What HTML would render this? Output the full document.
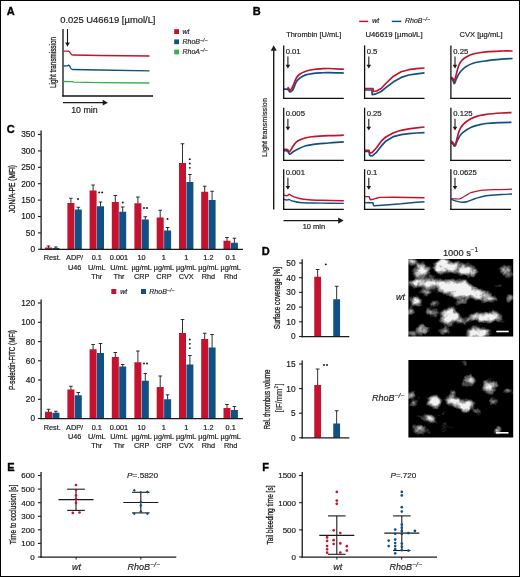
<!DOCTYPE html>
<html><head><meta charset="utf-8"><title>Figure</title>
<style>html,body{margin:0;padding:0;background:#fff}svg{display:block}text{font-family:"Liberation Sans",sans-serif}</style>
</head><body>
<div id="fig" style="width:520px;height:577px;overflow:hidden;will-change:transform">
<svg width="520" height="577" viewBox="0 0 520 577" font-family="Liberation Sans, sans-serif" fill="#1a1a1a">
<rect x="0" y="0" width="520" height="577" fill="#fff"/>
<text x="6.70" y="14.80" font-size="11.00" text-anchor="start" font-weight="bold" stroke="#000" stroke-width="0.35" fill="#000">A</text>
<text x="252.70" y="14.60" font-size="11.00" text-anchor="start" font-weight="bold" stroke="#000" stroke-width="0.35" fill="#000">B</text>
<text x="6.70" y="132.70" font-size="11.00" text-anchor="start" font-weight="bold" stroke="#000" stroke-width="0.35" fill="#000">C</text>
<text x="261.80" y="254.70" font-size="11.00" text-anchor="start" font-weight="bold" stroke="#000" stroke-width="0.35" fill="#000">D</text>
<text x="7.20" y="470.50" font-size="11.00" text-anchor="start" font-weight="bold" stroke="#000" stroke-width="0.35" fill="#000">E</text>
<text x="262.20" y="470.50" font-size="11.00" text-anchor="start" font-weight="bold" stroke="#000" stroke-width="0.35" fill="#000">F</text>
<text x="60.20" y="23.10" font-size="9.00" text-anchor="start" textLength="95.3" lengthAdjust="spacingAndGlyphs" stroke="#1a1a1a" stroke-width="0.18">0.025 U46619 [&#181;mol/L]</text>
<line x1="63.00" y1="29.00" x2="63.00" y2="96.60" stroke="#111" stroke-width="1.30"/>
<line x1="62.35" y1="96.00" x2="153.00" y2="96.00" stroke="#111" stroke-width="1.30"/>
<line x1="67.50" y1="29.00" x2="67.50" y2="43.10" stroke="#1a1a1a" stroke-width="1.10"/>
<path d="M65.15,42.60 L69.85,42.60 L67.50,46.80 Z" fill="#1a1a1a"/>
<path d="M63.50,51.20 L68.60,51.20 L69.60,51.80 L71.50,54.60 L72.60,55.00 L100.00,55.50 L149.50,56.00" fill="none" stroke="#C4122F" stroke-width="1.30" stroke-linejoin="round" stroke-linecap="butt"/>
<path d="M63.50,66.00 L67.60,65.90 L68.60,65.00 L69.40,65.60 L71.20,69.00 L72.40,69.50 L100.00,70.00 L149.50,70.80" fill="none" stroke="#115084" stroke-width="1.30" stroke-linejoin="round" stroke-linecap="butt"/>
<path d="M63.50,81.50 L72.00,81.70 L74.00,82.20 L100.00,82.60 L149.50,83.00" fill="none" stroke="#3DAE49" stroke-width="1.30" stroke-linejoin="round" stroke-linecap="butt"/>
<line x1="63.00" y1="102.65" x2="103.20" y2="102.65" stroke="#1a1a1a" stroke-width="1.20"/>
<path d="M102.70,99.75 L102.70,105.55 L107.90,102.65 Z" fill="#1a1a1a"/>
<text x="71.20" y="112.50" font-size="8.80" text-anchor="start"  stroke="#1a1a1a" stroke-width="0.18">10 min</text>
<text transform="translate(56.00,62.50) rotate(-90) scale(0.7031,1)" font-size="9.00" text-anchor="middle"  stroke="#1a1a1a" stroke-width="0.30">Light transmission</text>
<rect x="174.2" y="29.20" width="4.8" height="4.8" fill="#C4122F"/>
<text x="182.50" y="33.80" font-size="7.00" text-anchor="start" font-style="italic"  stroke="#1a1a1a" stroke-width="0.18">wt</text>
<rect x="174.2" y="39.40" width="4.8" height="4.8" fill="#115084"/>
<text x="182.50" y="44.00" font-size="7.00" text-anchor="start" font-style="italic" stroke="#1a1a1a" stroke-width="0.15">RhoB<tspan font-size="5.32" dy="-2.03">&#8722;/&#8722;</tspan></text>
<rect x="174.2" y="49.60" width="4.8" height="4.8" fill="#3DAE49"/>
<text x="182.50" y="54.20" font-size="7.00" text-anchor="start" font-style="italic" stroke="#1a1a1a" stroke-width="0.15">RhoA<tspan font-size="5.32" dy="-2.03">&#8722;/&#8722;</tspan></text>
<line x1="359.20" y1="21.40" x2="368.20" y2="21.40" stroke="#C4122F" stroke-width="1.50"/>
<text x="372.20" y="23.30" font-size="7.00" text-anchor="start" font-style="italic"  stroke="#1a1a1a" stroke-width="0.18">wt</text>
<line x1="391.80" y1="21.40" x2="401.30" y2="21.40" stroke="#115084" stroke-width="1.50"/>
<text x="405.00" y="23.30" font-size="7.00" text-anchor="start" font-style="italic" stroke="#1a1a1a" stroke-width="0.15">RhoB<tspan font-size="5.32" dy="-2.03">&#8722;/&#8722;</tspan></text>
<text x="286.20" y="37.30" font-size="7.90" text-anchor="start" textLength="55.2" lengthAdjust="spacingAndGlyphs" stroke="#1a1a1a" stroke-width="0.18">Thrombin [U/mL]</text>
<text x="365.40" y="37.30" font-size="7.90" text-anchor="start" textLength="57.2" lengthAdjust="spacingAndGlyphs" stroke="#1a1a1a" stroke-width="0.18">U46619 [&#181;mol/L]</text>
<text x="459.50" y="37.30" font-size="7.90" text-anchor="start" textLength="43" lengthAdjust="spacingAndGlyphs" stroke="#1a1a1a" stroke-width="0.18">CVX [&#181;g/mL]</text>
<line x1="273.70" y1="209.50" x2="273.70" y2="50.20" stroke="#1a1a1a" stroke-width="1.40"/>
<path d="M270.70,50.70 L276.70,50.70 L273.70,45.30 Z" fill="#1a1a1a"/>
<text transform="translate(267.40,127.40) rotate(-90) scale(0.9995,1)" font-size="7.30" text-anchor="middle"  stroke="#1a1a1a" stroke-width="0.18">Light transmission</text>
<line x1="283.50" y1="220.60" x2="338.70" y2="220.60" stroke="#1a1a1a" stroke-width="1.30"/>
<path d="M338.20,217.50 L338.20,223.70 L343.60,220.60 Z" fill="#1a1a1a"/>
<text x="302.70" y="229.20" font-size="7.50" text-anchor="start"  stroke="#1a1a1a" stroke-width="0.18">10 min</text>
<path d="M283.80,89.20 C284.44,89.22 286.42,89.12 287.30,89.30 C288.18,89.48 288.11,89.70 288.60,90.20 C289.10,90.70 289.41,91.85 290.00,92.00 C290.59,92.15 291.16,91.64 291.80,91.00 C292.44,90.36 292.64,90.24 293.50,88.50 C294.36,86.76 295.38,83.39 296.50,81.50 C297.62,79.61 297.90,79.41 299.60,78.20 C301.31,76.99 303.25,75.78 305.80,74.90 C308.35,74.02 310.71,73.79 313.50,73.40 C316.29,73.02 318.19,72.95 321.00,72.80 C323.81,72.65 324.62,72.55 328.80,72.60 C332.98,72.65 341.05,73.01 343.80,73.10" fill="none" stroke="#115084" stroke-width="1.70" stroke-linejoin="round" stroke-linecap="butt"/>
<path d="M287.00,89.00 C287.27,88.82 287.95,87.72 288.50,88.00 C289.05,88.28 289.43,90.39 290.00,90.50 C290.57,90.61 290.96,89.68 291.60,88.60 C292.24,87.52 292.60,86.60 293.50,84.60 C294.40,82.60 295.38,79.61 296.50,77.70 C297.62,75.79 297.90,75.39 299.60,74.20 C301.31,73.01 303.25,72.06 305.80,71.20 C308.35,70.34 310.71,69.94 313.50,69.50 C316.29,69.06 318.19,68.98 321.00,68.80 C323.81,68.62 324.62,68.43 328.80,68.50 C332.98,68.57 341.05,69.07 343.80,69.20" fill="none" stroke="#C4122F" stroke-width="1.70" stroke-linejoin="round" stroke-linecap="butt"/>
<line x1="283.70" y1="45.40" x2="283.70" y2="99.05" stroke="#111" stroke-width="1.30"/>
<line x1="283.05" y1="98.40" x2="343.80" y2="98.40" stroke="#111" stroke-width="1.30"/>
<text x="285.70" y="53.90" font-size="7.70" text-anchor="start"  stroke="#1a1a1a" stroke-width="0.18">0.01</text>
<line x1="287.90" y1="56.60" x2="287.90" y2="65.30" stroke="#1a1a1a" stroke-width="1.10"/>
<path d="M285.60,64.80 L290.20,64.80 L287.90,68.50 Z" fill="#1a1a1a"/>
<path d="M364.70,90.00 L371.90,90.00 L372.20,94.60 L375.00,94.20 L381.20,91.50 L385.80,87.70 L393.50,81.80 L401.20,77.40 L408.80,75.00 L416.50,73.80 L424.50,72.80" fill="none" stroke="#115084" stroke-width="1.70" stroke-linejoin="round" stroke-linecap="butt"/>
<path d="M364.70,88.50 L373.00,88.50 L373.30,91.50 L376.50,91.00 L381.20,88.50 L385.80,83.50 L393.50,76.20 L401.20,71.80 L408.80,69.70 L416.50,68.60 L424.50,68.00" fill="none" stroke="#C4122F" stroke-width="1.70" stroke-linejoin="round" stroke-linecap="butt"/>
<line x1="364.60" y1="45.40" x2="364.60" y2="99.05" stroke="#111" stroke-width="1.30"/>
<line x1="363.95" y1="98.40" x2="424.50" y2="98.40" stroke="#111" stroke-width="1.30"/>
<text x="366.70" y="53.90" font-size="7.70" text-anchor="start"  stroke="#1a1a1a" stroke-width="0.18">0.5</text>
<line x1="368.80" y1="56.60" x2="368.80" y2="65.30" stroke="#1a1a1a" stroke-width="1.10"/>
<path d="M366.50,64.80 L371.10,64.80 L368.80,68.50 Z" fill="#1a1a1a"/>
<path d="M451.30,78.50 C451.57,78.81 452.27,79.28 452.80,80.20 C453.33,81.12 453.76,83.17 454.20,83.50 C454.64,83.83 454.83,82.79 455.20,82.00 C455.57,81.21 455.59,80.56 456.20,79.20 C456.81,77.84 457.53,76.19 458.50,74.60 C459.47,73.00 460.09,71.98 461.50,70.50 C462.91,69.02 463.94,67.88 466.20,66.50 C468.45,65.12 470.13,64.05 473.80,63.00 C477.47,61.95 481.12,61.50 486.20,60.80 C491.28,60.10 496.66,59.62 501.50,59.20 C506.34,58.78 510.56,58.63 512.60,58.50" fill="none" stroke="#115084" stroke-width="1.70" stroke-linejoin="round" stroke-linecap="butt"/>
<path d="M451.30,77.00 C451.57,77.28 452.27,77.73 452.80,78.50 C453.33,79.27 453.76,81.20 454.20,81.20 C454.64,81.20 454.83,79.71 455.20,78.50 C455.57,77.29 455.59,76.85 456.20,74.60 C456.81,72.34 457.53,68.73 458.50,66.20 C459.47,63.67 460.09,62.49 461.50,60.80 C462.91,59.11 463.94,58.28 466.20,57.00 C468.45,55.72 470.13,54.75 473.80,53.80 C477.47,52.85 481.12,52.31 486.20,51.80 C491.28,51.29 496.66,51.15 501.50,51.00 C506.34,50.85 510.56,51.00 512.60,51.00" fill="none" stroke="#C4122F" stroke-width="1.70" stroke-linejoin="round" stroke-linecap="butt"/>
<line x1="450.90" y1="45.40" x2="450.90" y2="99.05" stroke="#111" stroke-width="1.30"/>
<line x1="450.25" y1="98.40" x2="511.00" y2="98.40" stroke="#111" stroke-width="1.30"/>
<text x="453.30" y="53.90" font-size="7.70" text-anchor="start"  stroke="#1a1a1a" stroke-width="0.18">0.25</text>
<line x1="455.00" y1="56.60" x2="455.00" y2="65.30" stroke="#1a1a1a" stroke-width="1.10"/>
<path d="M452.70,64.80 L457.30,64.80 L455.00,68.50 Z" fill="#1a1a1a"/>
<path d="M283.80,150.80 C284.44,150.82 286.42,150.53 287.30,150.90 C288.18,151.27 288.18,152.20 288.60,152.80 C289.02,153.41 289.11,154.09 289.60,154.20 C290.10,154.31 290.59,153.90 291.30,153.40 C292.01,152.91 292.27,152.31 293.50,151.50 C294.73,150.69 295.75,150.04 298.00,149.00 C300.25,147.96 302.96,146.66 305.80,145.80 C308.64,144.94 309.28,144.81 313.50,144.30 C317.72,143.79 323.25,143.46 328.80,143.00 C334.36,142.54 341.05,142.02 343.80,141.80" fill="none" stroke="#115084" stroke-width="1.70" stroke-linejoin="round" stroke-linecap="butt"/>
<path d="M283.80,149.50 C284.44,149.50 286.48,149.30 287.30,149.50 C288.12,149.70 287.93,150.14 288.30,150.60 C288.67,151.06 288.81,152.15 289.30,152.00 C289.80,151.85 290.23,151.01 291.00,149.80 C291.77,148.59 292.22,147.05 293.50,145.40 C294.78,143.75 295.75,142.21 298.00,140.80 C300.25,139.39 302.96,138.47 305.80,137.70 C308.64,136.93 309.28,136.97 313.50,136.60 C317.72,136.23 323.25,135.96 328.80,135.70 C334.36,135.44 341.05,135.29 343.80,135.20" fill="none" stroke="#C4122F" stroke-width="1.70" stroke-linejoin="round" stroke-linecap="butt"/>
<line x1="283.70" y1="107.70" x2="283.70" y2="161.05" stroke="#111" stroke-width="1.30"/>
<line x1="283.05" y1="160.40" x2="343.80" y2="160.40" stroke="#111" stroke-width="1.30"/>
<text x="285.70" y="116.30" font-size="7.70" text-anchor="start"  stroke="#1a1a1a" stroke-width="0.18">0.005</text>
<line x1="287.90" y1="118.80" x2="287.90" y2="127.30" stroke="#1a1a1a" stroke-width="1.10"/>
<path d="M285.60,126.80 L290.20,126.80 L287.90,130.50 Z" fill="#1a1a1a"/>
<path d="M364.70,151.50 L369.00,151.50 L369.60,155.20 L370.60,155.80 L372.50,155.60 L376.50,152.30 L381.20,146.20 L385.80,141.20 L393.50,136.60 L401.20,134.60 L408.80,133.70 L416.50,133.00 L424.50,132.60" fill="none" stroke="#115084" stroke-width="1.70" stroke-linejoin="round" stroke-linecap="butt"/>
<path d="M364.70,150.30 L369.00,150.30 L369.50,152.60 L370.30,153.00 L372.00,152.60 L376.50,147.70 L381.20,141.20 L385.80,137.00 L393.50,132.80 L401.20,130.30 L408.80,128.80 L416.50,127.80 L424.50,127.00" fill="none" stroke="#C4122F" stroke-width="1.70" stroke-linejoin="round" stroke-linecap="butt"/>
<line x1="364.60" y1="107.70" x2="364.60" y2="161.05" stroke="#111" stroke-width="1.30"/>
<line x1="363.95" y1="160.40" x2="424.50" y2="160.40" stroke="#111" stroke-width="1.30"/>
<text x="366.70" y="116.30" font-size="7.70" text-anchor="start"  stroke="#1a1a1a" stroke-width="0.18">0.25</text>
<line x1="368.80" y1="118.80" x2="368.80" y2="127.30" stroke="#1a1a1a" stroke-width="1.10"/>
<path d="M366.50,126.80 L371.10,126.80 L368.80,130.50 Z" fill="#1a1a1a"/>
<path d="M451.30,142.80 C451.61,143.06 452.39,143.58 453.00,144.20 C453.61,144.82 454.09,146.13 454.60,146.20 C455.11,146.27 455.36,145.46 455.80,144.60 C456.24,143.74 456.38,142.89 457.00,141.50 C457.62,140.11 458.10,138.69 459.20,137.00 C460.30,135.31 460.87,134.06 463.00,132.30 C465.13,130.54 467.96,128.74 470.80,127.40 C473.64,126.06 475.68,125.72 478.50,125.00 C481.32,124.28 481.98,123.94 486.20,123.50 C490.42,123.06 496.86,122.82 501.50,122.60 C506.14,122.38 509.67,122.35 511.50,122.30" fill="none" stroke="#115084" stroke-width="1.70" stroke-linejoin="round" stroke-linecap="butt"/>
<path d="M451.30,141.20 C451.61,141.49 452.39,142.03 453.00,142.80 C453.61,143.57 454.09,145.36 454.60,145.40 C455.11,145.44 455.36,144.27 455.80,143.00 C456.24,141.73 456.38,140.74 457.00,138.50 C457.62,136.26 458.10,133.35 459.20,130.80 C460.30,128.25 460.87,126.80 463.00,124.60 C465.13,122.40 467.96,120.41 470.80,118.80 C473.64,117.19 475.68,116.62 478.50,115.80 C481.32,114.97 481.98,114.81 486.20,114.30 C490.42,113.79 496.86,113.31 501.50,113.00 C506.14,112.69 509.67,112.67 511.50,112.60" fill="none" stroke="#C4122F" stroke-width="1.70" stroke-linejoin="round" stroke-linecap="butt"/>
<line x1="450.90" y1="107.70" x2="450.90" y2="161.05" stroke="#111" stroke-width="1.30"/>
<line x1="450.25" y1="160.40" x2="511.00" y2="160.40" stroke="#111" stroke-width="1.30"/>
<text x="453.30" y="116.30" font-size="7.70" text-anchor="start"  stroke="#1a1a1a" stroke-width="0.18">0.125</text>
<line x1="455.00" y1="118.80" x2="455.00" y2="127.30" stroke="#1a1a1a" stroke-width="1.10"/>
<path d="M452.70,126.80 L457.30,126.80 L455.00,130.50 Z" fill="#1a1a1a"/>
<path d="M283.80,199.40 C284.30,199.51 285.73,199.93 286.50,200.00 C287.27,200.07 287.54,199.91 288.00,199.80 C288.46,199.69 288.52,199.31 289.00,199.40 C289.48,199.49 289.78,199.97 290.60,200.30 C291.43,200.63 291.85,200.80 293.50,201.20 C295.15,201.60 296.80,202.17 299.60,202.50 C302.41,202.83 304.84,202.89 308.80,203.00 C312.76,203.11 314.78,203.03 321.20,203.10 C327.62,203.17 339.66,203.34 343.80,203.40" fill="none" stroke="#115084" stroke-width="1.40" stroke-linejoin="round" stroke-linecap="butt"/>
<path d="M283.80,195.00 C284.30,195.15 285.73,195.76 286.50,195.80 C287.27,195.84 287.50,195.47 288.00,195.20 C288.50,194.92 288.65,194.26 289.20,194.30 C289.75,194.34 290.21,194.98 291.00,195.40 C291.79,195.82 291.92,196.03 293.50,196.60 C295.08,197.17 296.80,197.93 299.60,198.50 C302.41,199.07 304.84,199.37 308.80,199.70 C312.76,200.03 314.78,200.10 321.20,200.30 C327.62,200.50 339.66,200.71 343.80,200.80" fill="none" stroke="#C4122F" stroke-width="1.40" stroke-linejoin="round" stroke-linecap="butt"/>
<line x1="283.70" y1="169.20" x2="283.70" y2="210.05" stroke="#111" stroke-width="1.30"/>
<line x1="283.05" y1="209.40" x2="343.80" y2="209.40" stroke="#111" stroke-width="1.30"/>
<text x="285.70" y="175.10" font-size="7.70" text-anchor="start"  stroke="#1a1a1a" stroke-width="0.18">0.001</text>
<line x1="287.90" y1="177.70" x2="287.90" y2="186.50" stroke="#1a1a1a" stroke-width="1.10"/>
<path d="M285.60,186.00 L290.20,186.00 L287.90,189.70 Z" fill="#1a1a1a"/>
<path d="M364.70,202.30 L366.50,202.90 L368.00,202.50 L370.40,202.80 L373.00,202.80 L373.40,205.40 L374.20,205.80 L385.80,205.00 L401.20,203.80 L416.50,202.20 L424.50,201.70" fill="none" stroke="#115084" stroke-width="1.40" stroke-linejoin="round" stroke-linecap="butt"/>
<path d="M364.70,196.60 L369.20,196.60 L369.80,198.80 L370.60,199.70 L373.50,199.20 L376.50,198.20 L379.60,197.40 L393.50,197.20 L424.50,197.80" fill="none" stroke="#C4122F" stroke-width="1.40" stroke-linejoin="round" stroke-linecap="butt"/>
<line x1="364.60" y1="169.20" x2="364.60" y2="210.05" stroke="#111" stroke-width="1.30"/>
<line x1="363.95" y1="209.40" x2="424.50" y2="209.40" stroke="#111" stroke-width="1.30"/>
<text x="366.70" y="175.10" font-size="7.70" text-anchor="start"  stroke="#1a1a1a" stroke-width="0.18">0.1</text>
<line x1="368.80" y1="177.70" x2="368.80" y2="186.50" stroke="#1a1a1a" stroke-width="1.10"/>
<path d="M366.50,186.00 L371.10,186.00 L368.80,189.70 Z" fill="#1a1a1a"/>
<path d="M451.30,199.20 C452.05,199.49 453.53,200.23 455.40,200.80 C457.27,201.37 459.25,202.17 461.50,202.30 C463.75,202.43 465.15,202.20 467.70,201.50 C470.25,200.80 472.01,199.54 475.40,198.50 C478.79,197.46 481.41,196.53 486.20,195.80 C490.99,195.07 496.77,194.83 501.50,194.50 C506.23,194.17 510.07,194.09 512.00,194.00" fill="none" stroke="#115084" stroke-width="1.40" stroke-linejoin="round" stroke-linecap="butt"/>
<path d="M451.30,198.50 C451.98,198.56 453.68,198.71 455.00,198.80 C456.32,198.89 457.40,199.07 458.50,199.00 C459.60,198.93 460.18,198.73 461.00,198.40 C461.82,198.07 461.90,197.86 463.00,197.20 C464.10,196.54 465.57,195.61 467.00,194.80 C468.43,193.99 468.69,193.53 470.80,192.80 C472.91,192.07 474.28,191.37 478.50,190.80 C482.72,190.23 487.66,189.99 493.80,189.70 C499.94,189.41 508.66,189.29 512.00,189.20" fill="none" stroke="#C4122F" stroke-width="1.20" stroke-linejoin="round" stroke-linecap="butt"/>
<line x1="450.90" y1="169.20" x2="450.90" y2="210.05" stroke="#111" stroke-width="1.30"/>
<line x1="450.25" y1="209.40" x2="511.00" y2="209.40" stroke="#111" stroke-width="1.30"/>
<text x="453.30" y="175.10" font-size="7.70" text-anchor="start"  stroke="#1a1a1a" stroke-width="0.18">0.0625</text>
<line x1="455.00" y1="177.70" x2="455.00" y2="186.50" stroke="#1a1a1a" stroke-width="1.10"/>
<path d="M452.70,186.00 L457.30,186.00 L455.00,189.70 Z" fill="#1a1a1a"/>
<line x1="48.50" y1="246.00" x2="48.50" y2="248.00" stroke="#1a1a1a" stroke-width="0.90"/>
<line x1="46.70" y1="246.00" x2="50.30" y2="246.00" stroke="#1a1a1a" stroke-width="0.90"/>
<rect x="45.00" y="247.50" width="7.00" height="1.75" fill="#C4122F"/>
<line x1="55.90" y1="247.00" x2="55.90" y2="248.50" stroke="#1a1a1a" stroke-width="0.90"/>
<line x1="54.10" y1="247.00" x2="57.70" y2="247.00" stroke="#1a1a1a" stroke-width="0.90"/>
<rect x="52.40" y="248.00" width="7.00" height="1.25" fill="#115084"/>
<line x1="70.90" y1="198.25" x2="70.90" y2="203.50" stroke="#1a1a1a" stroke-width="0.90"/>
<line x1="69.10" y1="198.25" x2="72.70" y2="198.25" stroke="#1a1a1a" stroke-width="0.90"/>
<rect x="67.40" y="203.00" width="7.00" height="46.25" fill="#C4122F"/>
<line x1="78.30" y1="207.25" x2="78.30" y2="210.00" stroke="#1a1a1a" stroke-width="0.90"/>
<line x1="76.50" y1="207.25" x2="80.10" y2="207.25" stroke="#1a1a1a" stroke-width="0.90"/>
<rect x="74.80" y="209.50" width="7.00" height="39.75" fill="#115084"/>
<line x1="93.10" y1="185.00" x2="93.10" y2="191.00" stroke="#1a1a1a" stroke-width="0.90"/>
<line x1="91.30" y1="185.00" x2="94.90" y2="185.00" stroke="#1a1a1a" stroke-width="0.90"/>
<rect x="89.60" y="190.50" width="7.00" height="58.75" fill="#C4122F"/>
<line x1="100.50" y1="202.00" x2="100.50" y2="206.75" stroke="#1a1a1a" stroke-width="0.90"/>
<line x1="98.70" y1="202.00" x2="102.30" y2="202.00" stroke="#1a1a1a" stroke-width="0.90"/>
<rect x="97.00" y="206.25" width="7.00" height="43.00" fill="#115084"/>
<line x1="115.30" y1="195.50" x2="115.30" y2="202.50" stroke="#1a1a1a" stroke-width="0.90"/>
<line x1="113.50" y1="195.50" x2="117.10" y2="195.50" stroke="#1a1a1a" stroke-width="0.90"/>
<rect x="111.80" y="202.00" width="7.00" height="47.25" fill="#C4122F"/>
<line x1="122.70" y1="207.00" x2="122.70" y2="212.25" stroke="#1a1a1a" stroke-width="0.90"/>
<line x1="120.90" y1="207.00" x2="124.50" y2="207.00" stroke="#1a1a1a" stroke-width="0.90"/>
<rect x="119.20" y="211.75" width="7.00" height="37.50" fill="#115084"/>
<line x1="137.90" y1="197.00" x2="137.90" y2="203.75" stroke="#1a1a1a" stroke-width="0.90"/>
<line x1="136.10" y1="197.00" x2="139.70" y2="197.00" stroke="#1a1a1a" stroke-width="0.90"/>
<rect x="134.40" y="203.25" width="7.00" height="46.00" fill="#C4122F"/>
<line x1="145.30" y1="216.75" x2="145.30" y2="220.00" stroke="#1a1a1a" stroke-width="0.90"/>
<line x1="143.50" y1="216.75" x2="147.10" y2="216.75" stroke="#1a1a1a" stroke-width="0.90"/>
<rect x="141.80" y="219.50" width="7.00" height="29.75" fill="#115084"/>
<line x1="160.20" y1="210.25" x2="160.20" y2="218.00" stroke="#1a1a1a" stroke-width="0.90"/>
<line x1="158.40" y1="210.25" x2="162.00" y2="210.25" stroke="#1a1a1a" stroke-width="0.90"/>
<rect x="156.70" y="217.50" width="7.00" height="31.75" fill="#C4122F"/>
<line x1="167.60" y1="227.50" x2="167.60" y2="231.00" stroke="#1a1a1a" stroke-width="0.90"/>
<line x1="165.80" y1="227.50" x2="169.40" y2="227.50" stroke="#1a1a1a" stroke-width="0.90"/>
<rect x="164.10" y="230.50" width="7.00" height="18.75" fill="#115084"/>
<line x1="182.50" y1="143.75" x2="182.50" y2="163.50" stroke="#1a1a1a" stroke-width="0.90"/>
<line x1="180.70" y1="143.75" x2="184.30" y2="143.75" stroke="#1a1a1a" stroke-width="0.90"/>
<rect x="179.00" y="163.00" width="7.00" height="86.25" fill="#C4122F"/>
<line x1="189.90" y1="174.50" x2="189.90" y2="182.50" stroke="#1a1a1a" stroke-width="0.90"/>
<line x1="188.10" y1="174.50" x2="191.70" y2="174.50" stroke="#1a1a1a" stroke-width="0.90"/>
<rect x="186.40" y="182.00" width="7.00" height="67.25" fill="#115084"/>
<line x1="204.70" y1="186.25" x2="204.70" y2="192.25" stroke="#1a1a1a" stroke-width="0.90"/>
<line x1="202.90" y1="186.25" x2="206.50" y2="186.25" stroke="#1a1a1a" stroke-width="0.90"/>
<rect x="201.20" y="191.75" width="7.00" height="57.50" fill="#C4122F"/>
<line x1="212.10" y1="191.25" x2="212.10" y2="200.50" stroke="#1a1a1a" stroke-width="0.90"/>
<line x1="210.30" y1="191.25" x2="213.90" y2="191.25" stroke="#1a1a1a" stroke-width="0.90"/>
<rect x="208.60" y="200.00" width="7.00" height="49.25" fill="#115084"/>
<line x1="227.00" y1="237.50" x2="227.00" y2="241.25" stroke="#1a1a1a" stroke-width="0.90"/>
<line x1="225.20" y1="237.50" x2="228.80" y2="237.50" stroke="#1a1a1a" stroke-width="0.90"/>
<rect x="223.50" y="240.75" width="7.00" height="8.50" fill="#C4122F"/>
<line x1="234.40" y1="238.25" x2="234.40" y2="243.25" stroke="#1a1a1a" stroke-width="0.90"/>
<line x1="232.60" y1="238.25" x2="236.20" y2="238.25" stroke="#1a1a1a" stroke-width="0.90"/>
<rect x="230.90" y="242.75" width="7.00" height="6.50" fill="#115084"/>
<line x1="41.10" y1="130.60" x2="41.10" y2="249.90" stroke="#1a1a1a" stroke-width="1.30"/>
<line x1="40.45" y1="249.35" x2="243.00" y2="249.35" stroke="#1a1a1a" stroke-width="1.30"/>
<line x1="37.90" y1="134.50" x2="40.90" y2="134.50" stroke="#1a1a1a" stroke-width="1.10"/>
<text x="35.00" y="137.40" font-size="8.30" text-anchor="end"  stroke="#1a1a1a" stroke-width="0.18">350</text>
<line x1="37.90" y1="150.90" x2="40.90" y2="150.90" stroke="#1a1a1a" stroke-width="1.10"/>
<text x="35.00" y="153.80" font-size="8.30" text-anchor="end"  stroke="#1a1a1a" stroke-width="0.18">300</text>
<line x1="37.90" y1="167.30" x2="40.90" y2="167.30" stroke="#1a1a1a" stroke-width="1.10"/>
<text x="35.00" y="170.20" font-size="8.30" text-anchor="end"  stroke="#1a1a1a" stroke-width="0.18">250</text>
<line x1="37.90" y1="183.70" x2="40.90" y2="183.70" stroke="#1a1a1a" stroke-width="1.10"/>
<text x="35.00" y="186.60" font-size="8.30" text-anchor="end"  stroke="#1a1a1a" stroke-width="0.18">200</text>
<line x1="37.90" y1="200.10" x2="40.90" y2="200.10" stroke="#1a1a1a" stroke-width="1.10"/>
<text x="35.00" y="203.00" font-size="8.30" text-anchor="end"  stroke="#1a1a1a" stroke-width="0.18">150</text>
<line x1="37.90" y1="216.50" x2="40.90" y2="216.50" stroke="#1a1a1a" stroke-width="1.10"/>
<text x="35.00" y="219.40" font-size="8.30" text-anchor="end"  stroke="#1a1a1a" stroke-width="0.18">100</text>
<line x1="37.90" y1="232.90" x2="40.90" y2="232.90" stroke="#1a1a1a" stroke-width="1.10"/>
<text x="35.00" y="235.80" font-size="8.30" text-anchor="end"  stroke="#1a1a1a" stroke-width="0.18">50</text>
<line x1="37.90" y1="249.25" x2="40.90" y2="249.25" stroke="#1a1a1a" stroke-width="1.10"/>
<text x="35.00" y="252.15" font-size="8.30" text-anchor="end"  stroke="#1a1a1a" stroke-width="0.18">0</text>
<text transform="translate(14.70,189.00) rotate(-90) scale(0.7092,1)" font-size="9.30" text-anchor="middle"  stroke="#1a1a1a" stroke-width="0.30">JON/A-PE (MFI)</text>
<line x1="48.50" y1="409.25" x2="48.50" y2="412.25" stroke="#1a1a1a" stroke-width="0.90"/>
<line x1="46.70" y1="409.25" x2="50.30" y2="409.25" stroke="#1a1a1a" stroke-width="0.90"/>
<rect x="45.00" y="411.75" width="7.00" height="6.75" fill="#C4122F"/>
<line x1="55.90" y1="411.25" x2="55.90" y2="413.25" stroke="#1a1a1a" stroke-width="0.90"/>
<line x1="54.10" y1="411.25" x2="57.70" y2="411.25" stroke="#1a1a1a" stroke-width="0.90"/>
<rect x="52.40" y="412.75" width="7.00" height="5.75" fill="#115084"/>
<line x1="70.90" y1="386.25" x2="70.90" y2="390.00" stroke="#1a1a1a" stroke-width="0.90"/>
<line x1="69.10" y1="386.25" x2="72.70" y2="386.25" stroke="#1a1a1a" stroke-width="0.90"/>
<rect x="67.40" y="389.50" width="7.00" height="29.00" fill="#C4122F"/>
<line x1="78.30" y1="392.50" x2="78.30" y2="395.75" stroke="#1a1a1a" stroke-width="0.90"/>
<line x1="76.50" y1="392.50" x2="80.10" y2="392.50" stroke="#1a1a1a" stroke-width="0.90"/>
<rect x="74.80" y="395.25" width="7.00" height="23.25" fill="#115084"/>
<line x1="93.10" y1="344.50" x2="93.10" y2="349.75" stroke="#1a1a1a" stroke-width="0.90"/>
<line x1="91.30" y1="344.50" x2="94.90" y2="344.50" stroke="#1a1a1a" stroke-width="0.90"/>
<rect x="89.60" y="349.25" width="7.00" height="69.25" fill="#C4122F"/>
<line x1="100.50" y1="343.50" x2="100.50" y2="353.50" stroke="#1a1a1a" stroke-width="0.90"/>
<line x1="98.70" y1="343.50" x2="102.30" y2="343.50" stroke="#1a1a1a" stroke-width="0.90"/>
<rect x="97.00" y="353.00" width="7.00" height="65.50" fill="#115084"/>
<line x1="115.30" y1="352.50" x2="115.30" y2="357.50" stroke="#1a1a1a" stroke-width="0.90"/>
<line x1="113.50" y1="352.50" x2="117.10" y2="352.50" stroke="#1a1a1a" stroke-width="0.90"/>
<rect x="111.80" y="357.00" width="7.00" height="61.50" fill="#C4122F"/>
<line x1="122.70" y1="364.50" x2="122.70" y2="367.00" stroke="#1a1a1a" stroke-width="0.90"/>
<line x1="120.90" y1="364.50" x2="124.50" y2="364.50" stroke="#1a1a1a" stroke-width="0.90"/>
<rect x="119.20" y="366.50" width="7.00" height="52.00" fill="#115084"/>
<line x1="137.90" y1="351.00" x2="137.90" y2="362.75" stroke="#1a1a1a" stroke-width="0.90"/>
<line x1="136.10" y1="351.00" x2="139.70" y2="351.00" stroke="#1a1a1a" stroke-width="0.90"/>
<rect x="134.40" y="362.25" width="7.00" height="56.25" fill="#C4122F"/>
<line x1="145.30" y1="373.50" x2="145.30" y2="381.25" stroke="#1a1a1a" stroke-width="0.90"/>
<line x1="143.50" y1="373.50" x2="147.10" y2="373.50" stroke="#1a1a1a" stroke-width="0.90"/>
<rect x="141.80" y="380.75" width="7.00" height="37.75" fill="#115084"/>
<line x1="160.20" y1="376.00" x2="160.20" y2="387.50" stroke="#1a1a1a" stroke-width="0.90"/>
<line x1="158.40" y1="376.00" x2="162.00" y2="376.00" stroke="#1a1a1a" stroke-width="0.90"/>
<rect x="156.70" y="387.00" width="7.00" height="31.50" fill="#C4122F"/>
<line x1="167.60" y1="394.75" x2="167.60" y2="399.75" stroke="#1a1a1a" stroke-width="0.90"/>
<line x1="165.80" y1="394.75" x2="169.40" y2="394.75" stroke="#1a1a1a" stroke-width="0.90"/>
<rect x="164.10" y="399.25" width="7.00" height="19.25" fill="#115084"/>
<line x1="182.50" y1="319.50" x2="182.50" y2="333.50" stroke="#1a1a1a" stroke-width="0.90"/>
<line x1="180.70" y1="319.50" x2="184.30" y2="319.50" stroke="#1a1a1a" stroke-width="0.90"/>
<rect x="179.00" y="333.00" width="7.00" height="85.50" fill="#C4122F"/>
<line x1="189.90" y1="355.50" x2="189.90" y2="365.00" stroke="#1a1a1a" stroke-width="0.90"/>
<line x1="188.10" y1="355.50" x2="191.70" y2="355.50" stroke="#1a1a1a" stroke-width="0.90"/>
<rect x="186.40" y="364.50" width="7.00" height="54.00" fill="#115084"/>
<line x1="204.70" y1="333.25" x2="204.70" y2="339.50" stroke="#1a1a1a" stroke-width="0.90"/>
<line x1="202.90" y1="333.25" x2="206.50" y2="333.25" stroke="#1a1a1a" stroke-width="0.90"/>
<rect x="201.20" y="339.00" width="7.00" height="79.50" fill="#C4122F"/>
<line x1="212.10" y1="334.50" x2="212.10" y2="348.00" stroke="#1a1a1a" stroke-width="0.90"/>
<line x1="210.30" y1="334.50" x2="213.90" y2="334.50" stroke="#1a1a1a" stroke-width="0.90"/>
<rect x="208.60" y="347.50" width="7.00" height="71.00" fill="#115084"/>
<line x1="227.00" y1="404.50" x2="227.00" y2="408.50" stroke="#1a1a1a" stroke-width="0.90"/>
<line x1="225.20" y1="404.50" x2="228.80" y2="404.50" stroke="#1a1a1a" stroke-width="0.90"/>
<rect x="223.50" y="408.00" width="7.00" height="10.50" fill="#C4122F"/>
<line x1="234.40" y1="406.50" x2="234.40" y2="410.50" stroke="#1a1a1a" stroke-width="0.90"/>
<line x1="232.60" y1="406.50" x2="236.20" y2="406.50" stroke="#1a1a1a" stroke-width="0.90"/>
<rect x="230.90" y="410.00" width="7.00" height="8.50" fill="#115084"/>
<line x1="41.10" y1="299.50" x2="41.10" y2="419.15" stroke="#1a1a1a" stroke-width="1.30"/>
<line x1="40.45" y1="418.60" x2="243.00" y2="418.60" stroke="#1a1a1a" stroke-width="1.30"/>
<line x1="37.90" y1="303.00" x2="40.90" y2="303.00" stroke="#1a1a1a" stroke-width="1.10"/>
<text x="35.00" y="305.90" font-size="8.30" text-anchor="end"  stroke="#1a1a1a" stroke-width="0.18">120</text>
<line x1="37.90" y1="322.30" x2="40.90" y2="322.30" stroke="#1a1a1a" stroke-width="1.10"/>
<text x="35.00" y="325.20" font-size="8.30" text-anchor="end"  stroke="#1a1a1a" stroke-width="0.18">100</text>
<line x1="37.90" y1="341.60" x2="40.90" y2="341.60" stroke="#1a1a1a" stroke-width="1.10"/>
<text x="35.00" y="344.50" font-size="8.30" text-anchor="end"  stroke="#1a1a1a" stroke-width="0.18">80</text>
<line x1="37.90" y1="360.80" x2="40.90" y2="360.80" stroke="#1a1a1a" stroke-width="1.10"/>
<text x="35.00" y="363.70" font-size="8.30" text-anchor="end"  stroke="#1a1a1a" stroke-width="0.18">60</text>
<line x1="37.90" y1="380.00" x2="40.90" y2="380.00" stroke="#1a1a1a" stroke-width="1.10"/>
<text x="35.00" y="382.90" font-size="8.30" text-anchor="end"  stroke="#1a1a1a" stroke-width="0.18">40</text>
<line x1="37.90" y1="399.30" x2="40.90" y2="399.30" stroke="#1a1a1a" stroke-width="1.10"/>
<text x="35.00" y="402.20" font-size="8.30" text-anchor="end"  stroke="#1a1a1a" stroke-width="0.18">20</text>
<line x1="37.90" y1="418.50" x2="40.90" y2="418.50" stroke="#1a1a1a" stroke-width="1.10"/>
<text x="35.00" y="421.40" font-size="8.30" text-anchor="end"  stroke="#1a1a1a" stroke-width="0.18">0</text>
<text transform="translate(14.70,360.00) rotate(-90) scale(0.6713,1)" font-size="9.30" text-anchor="middle"  stroke="#1a1a1a" stroke-width="0.30">P-selectin-FITC (MFI)</text>
<text x="52.20" y="260.30" font-size="7.30" text-anchor="middle"  stroke="#1a1a1a" stroke-width="0.18">Rest.</text>
<text x="74.60" y="260.30" font-size="7.30" text-anchor="middle"  stroke="#1a1a1a" stroke-width="0.18">ADP/</text>
<text x="74.60" y="269.65" font-size="7.30" text-anchor="middle"  stroke="#1a1a1a" stroke-width="0.18">U46</text>
<text x="96.80" y="260.30" font-size="7.30" text-anchor="middle"  stroke="#1a1a1a" stroke-width="0.18">0.1</text>
<text x="96.80" y="269.65" font-size="7.30" text-anchor="middle"  stroke="#1a1a1a" stroke-width="0.18">U/mL</text>
<text x="96.80" y="279.00" font-size="7.30" text-anchor="middle"  stroke="#1a1a1a" stroke-width="0.18">Thr</text>
<text x="119.00" y="260.30" font-size="7.30" text-anchor="middle"  stroke="#1a1a1a" stroke-width="0.18">0.001</text>
<text x="119.00" y="269.65" font-size="7.30" text-anchor="middle"  stroke="#1a1a1a" stroke-width="0.18">U/mL</text>
<text x="119.00" y="279.00" font-size="7.30" text-anchor="middle"  stroke="#1a1a1a" stroke-width="0.18">Thr</text>
<text x="141.60" y="260.30" font-size="7.30" text-anchor="middle"  stroke="#1a1a1a" stroke-width="0.18">10</text>
<text x="141.60" y="269.65" font-size="7.30" text-anchor="middle"  stroke="#1a1a1a" stroke-width="0.18">&#181;g/mL</text>
<text x="141.60" y="279.00" font-size="7.30" text-anchor="middle"  stroke="#1a1a1a" stroke-width="0.18">CRP</text>
<text x="163.90" y="260.30" font-size="7.30" text-anchor="middle"  stroke="#1a1a1a" stroke-width="0.18">1</text>
<text x="163.90" y="269.65" font-size="7.30" text-anchor="middle"  stroke="#1a1a1a" stroke-width="0.18">&#181;g/mL</text>
<text x="163.90" y="279.00" font-size="7.30" text-anchor="middle"  stroke="#1a1a1a" stroke-width="0.18">CRP</text>
<text x="186.20" y="260.30" font-size="7.30" text-anchor="middle"  stroke="#1a1a1a" stroke-width="0.18">1</text>
<text x="186.20" y="269.65" font-size="7.30" text-anchor="middle"  stroke="#1a1a1a" stroke-width="0.18">&#181;g/mL</text>
<text x="186.20" y="279.00" font-size="7.30" text-anchor="middle"  stroke="#1a1a1a" stroke-width="0.18">CVX</text>
<text x="208.40" y="260.30" font-size="7.30" text-anchor="middle"  stroke="#1a1a1a" stroke-width="0.18">1.2</text>
<text x="208.40" y="269.65" font-size="7.30" text-anchor="middle"  stroke="#1a1a1a" stroke-width="0.18">&#181;g/mL</text>
<text x="208.40" y="279.00" font-size="7.30" text-anchor="middle"  stroke="#1a1a1a" stroke-width="0.18">Rhd</text>
<text x="230.70" y="260.30" font-size="7.30" text-anchor="middle"  stroke="#1a1a1a" stroke-width="0.18">0.1</text>
<text x="230.70" y="269.65" font-size="7.30" text-anchor="middle"  stroke="#1a1a1a" stroke-width="0.18">&#181;g/mL</text>
<text x="230.70" y="279.00" font-size="7.30" text-anchor="middle"  stroke="#1a1a1a" stroke-width="0.18">Rhd</text>
<text x="52.20" y="429.50" font-size="7.30" text-anchor="middle"  stroke="#1a1a1a" stroke-width="0.18">Rest.</text>
<text x="74.60" y="429.50" font-size="7.30" text-anchor="middle"  stroke="#1a1a1a" stroke-width="0.18">ADP/</text>
<text x="74.60" y="438.85" font-size="7.30" text-anchor="middle"  stroke="#1a1a1a" stroke-width="0.18">U46</text>
<text x="96.80" y="429.50" font-size="7.30" text-anchor="middle"  stroke="#1a1a1a" stroke-width="0.18">0.1</text>
<text x="96.80" y="438.85" font-size="7.30" text-anchor="middle"  stroke="#1a1a1a" stroke-width="0.18">U/mL</text>
<text x="96.80" y="448.20" font-size="7.30" text-anchor="middle"  stroke="#1a1a1a" stroke-width="0.18">Thr</text>
<text x="119.00" y="429.50" font-size="7.30" text-anchor="middle"  stroke="#1a1a1a" stroke-width="0.18">0.001</text>
<text x="119.00" y="438.85" font-size="7.30" text-anchor="middle"  stroke="#1a1a1a" stroke-width="0.18">U/mL</text>
<text x="119.00" y="448.20" font-size="7.30" text-anchor="middle"  stroke="#1a1a1a" stroke-width="0.18">Thr</text>
<text x="141.60" y="429.50" font-size="7.30" text-anchor="middle"  stroke="#1a1a1a" stroke-width="0.18">10</text>
<text x="141.60" y="438.85" font-size="7.30" text-anchor="middle"  stroke="#1a1a1a" stroke-width="0.18">&#181;g/mL</text>
<text x="141.60" y="448.20" font-size="7.30" text-anchor="middle"  stroke="#1a1a1a" stroke-width="0.18">CRP</text>
<text x="163.90" y="429.50" font-size="7.30" text-anchor="middle"  stroke="#1a1a1a" stroke-width="0.18">1</text>
<text x="163.90" y="438.85" font-size="7.30" text-anchor="middle"  stroke="#1a1a1a" stroke-width="0.18">&#181;g/mL</text>
<text x="163.90" y="448.20" font-size="7.30" text-anchor="middle"  stroke="#1a1a1a" stroke-width="0.18">CRP</text>
<text x="186.20" y="429.50" font-size="7.30" text-anchor="middle"  stroke="#1a1a1a" stroke-width="0.18">1</text>
<text x="186.20" y="438.85" font-size="7.30" text-anchor="middle"  stroke="#1a1a1a" stroke-width="0.18">&#181;g/mL</text>
<text x="186.20" y="448.20" font-size="7.30" text-anchor="middle"  stroke="#1a1a1a" stroke-width="0.18">CVX</text>
<text x="208.40" y="429.50" font-size="7.30" text-anchor="middle"  stroke="#1a1a1a" stroke-width="0.18">1.2</text>
<text x="208.40" y="438.85" font-size="7.30" text-anchor="middle"  stroke="#1a1a1a" stroke-width="0.18">&#181;g/mL</text>
<text x="208.40" y="448.20" font-size="7.30" text-anchor="middle"  stroke="#1a1a1a" stroke-width="0.18">Rhd</text>
<text x="230.70" y="429.50" font-size="7.30" text-anchor="middle"  stroke="#1a1a1a" stroke-width="0.18">0.1</text>
<text x="230.70" y="438.85" font-size="7.30" text-anchor="middle"  stroke="#1a1a1a" stroke-width="0.18">&#181;g/mL</text>
<text x="230.70" y="448.20" font-size="7.30" text-anchor="middle"  stroke="#1a1a1a" stroke-width="0.18">Rhd</text>
<ellipse cx="78.00" cy="199.00" rx="1.0" ry="0.9" fill="#1a1a1a"/>
<ellipse cx="99.20" cy="192.40" rx="1.0" ry="0.9" fill="#1a1a1a"/>
<ellipse cx="102.20" cy="192.40" rx="1.0" ry="0.9" fill="#1a1a1a"/>
<ellipse cx="122.80" cy="202.50" rx="1.0" ry="0.9" fill="#1a1a1a"/>
<ellipse cx="144.00" cy="208.00" rx="1.0" ry="0.9" fill="#1a1a1a"/>
<ellipse cx="147.00" cy="208.00" rx="1.0" ry="0.9" fill="#1a1a1a"/>
<ellipse cx="167.50" cy="219.00" rx="1.0" ry="0.9" fill="#1a1a1a"/>
<ellipse cx="189.80" cy="159.20" rx="1.0" ry="0.9" fill="#1a1a1a"/>
<ellipse cx="189.80" cy="163.50" rx="1.0" ry="0.9" fill="#1a1a1a"/>
<ellipse cx="189.80" cy="167.80" rx="1.0" ry="0.9" fill="#1a1a1a"/>
<ellipse cx="144.00" cy="363.50" rx="1.0" ry="0.9" fill="#1a1a1a"/>
<ellipse cx="147.00" cy="363.50" rx="1.0" ry="0.9" fill="#1a1a1a"/>
<ellipse cx="189.80" cy="339.50" rx="1.0" ry="0.9" fill="#1a1a1a"/>
<ellipse cx="189.80" cy="343.80" rx="1.0" ry="0.9" fill="#1a1a1a"/>
<ellipse cx="189.80" cy="348.10" rx="1.0" ry="0.9" fill="#1a1a1a"/>
<rect x="111.3" y="289" width="5" height="5" fill="#C4122F"/>
<text x="120.20" y="293.90" font-size="7.00" text-anchor="start" font-style="italic"  stroke="#1a1a1a" stroke-width="0.18">wt</text>
<rect x="141" y="289" width="5" height="5" fill="#115084"/>
<text x="149.30" y="293.90" font-size="7.00" text-anchor="start" font-style="italic" stroke="#1a1a1a" stroke-width="0.15">RhoB<tspan font-size="5.32" dy="-2.03">&#8722;/&#8722;</tspan></text>
<line x1="317.65" y1="269.50" x2="317.65" y2="277.25" stroke="#1a1a1a" stroke-width="0.90"/>
<line x1="315.75" y1="269.50" x2="319.55" y2="269.50" stroke="#1a1a1a" stroke-width="0.90"/>
<rect x="314.25" y="276.75" width="6.80" height="59.75" fill="#C4122F"/>
<line x1="336.65" y1="286.25" x2="336.65" y2="299.75" stroke="#1a1a1a" stroke-width="0.90"/>
<line x1="334.75" y1="286.25" x2="338.55" y2="286.25" stroke="#1a1a1a" stroke-width="0.90"/>
<rect x="333.25" y="299.25" width="6.80" height="37.25" fill="#115084"/>
<line x1="302.20" y1="259.20" x2="302.20" y2="337.15" stroke="#1a1a1a" stroke-width="1.30"/>
<line x1="301.55" y1="336.60" x2="349.30" y2="336.60" stroke="#1a1a1a" stroke-width="1.30"/>
<line x1="299.10" y1="263.00" x2="302.10" y2="263.00" stroke="#1a1a1a" stroke-width="1.10"/>
<text x="295.50" y="265.90" font-size="8.30" text-anchor="end"  stroke="#1a1a1a" stroke-width="0.18">50</text>
<line x1="299.10" y1="277.70" x2="302.10" y2="277.70" stroke="#1a1a1a" stroke-width="1.10"/>
<text x="295.50" y="280.60" font-size="8.30" text-anchor="end"  stroke="#1a1a1a" stroke-width="0.18">40</text>
<line x1="299.10" y1="292.40" x2="302.10" y2="292.40" stroke="#1a1a1a" stroke-width="1.10"/>
<text x="295.50" y="295.30" font-size="8.30" text-anchor="end"  stroke="#1a1a1a" stroke-width="0.18">30</text>
<line x1="299.10" y1="307.10" x2="302.10" y2="307.10" stroke="#1a1a1a" stroke-width="1.10"/>
<text x="295.50" y="310.00" font-size="8.30" text-anchor="end"  stroke="#1a1a1a" stroke-width="0.18">20</text>
<line x1="299.10" y1="321.80" x2="302.10" y2="321.80" stroke="#1a1a1a" stroke-width="1.10"/>
<text x="295.50" y="324.70" font-size="8.30" text-anchor="end"  stroke="#1a1a1a" stroke-width="0.18">10</text>
<line x1="299.10" y1="336.50" x2="302.10" y2="336.50" stroke="#1a1a1a" stroke-width="1.10"/>
<text x="295.50" y="339.40" font-size="8.30" text-anchor="end"  stroke="#1a1a1a" stroke-width="0.18">0</text>
<ellipse cx="325.80" cy="264.30" rx="1.0" ry="0.9" fill="#1a1a1a"/>
<text transform="translate(280.30,298.00) rotate(-90) scale(0.7029,1)" font-size="9.30" text-anchor="middle"  stroke="#1a1a1a" stroke-width="0.30">Surface coverage [%]</text>
<line x1="317.65" y1="369.00" x2="317.65" y2="385.50" stroke="#1a1a1a" stroke-width="0.90"/>
<line x1="315.75" y1="369.00" x2="319.55" y2="369.00" stroke="#1a1a1a" stroke-width="0.90"/>
<rect x="314.25" y="385.00" width="6.80" height="52.75" fill="#C4122F"/>
<line x1="336.65" y1="410.75" x2="336.65" y2="424.00" stroke="#1a1a1a" stroke-width="0.90"/>
<line x1="334.75" y1="410.75" x2="338.55" y2="410.75" stroke="#1a1a1a" stroke-width="0.90"/>
<rect x="333.25" y="423.50" width="6.80" height="14.25" fill="#115084"/>
<line x1="302.20" y1="360.50" x2="302.20" y2="438.40" stroke="#1a1a1a" stroke-width="1.30"/>
<line x1="301.55" y1="437.85" x2="349.30" y2="437.85" stroke="#1a1a1a" stroke-width="1.30"/>
<line x1="299.10" y1="364.00" x2="302.10" y2="364.00" stroke="#1a1a1a" stroke-width="1.10"/>
<text x="295.50" y="366.90" font-size="8.30" text-anchor="end"  stroke="#1a1a1a" stroke-width="0.18">15</text>
<line x1="299.10" y1="388.60" x2="302.10" y2="388.60" stroke="#1a1a1a" stroke-width="1.10"/>
<text x="295.50" y="391.50" font-size="8.30" text-anchor="end"  stroke="#1a1a1a" stroke-width="0.18">10</text>
<line x1="299.10" y1="413.20" x2="302.10" y2="413.20" stroke="#1a1a1a" stroke-width="1.10"/>
<text x="295.50" y="416.10" font-size="8.30" text-anchor="end"  stroke="#1a1a1a" stroke-width="0.18">5</text>
<line x1="299.10" y1="437.75" x2="302.10" y2="437.75" stroke="#1a1a1a" stroke-width="1.10"/>
<text x="295.50" y="440.65" font-size="8.30" text-anchor="end"  stroke="#1a1a1a" stroke-width="0.18">0</text>
<ellipse cx="324.00" cy="365.00" rx="1.0" ry="0.9" fill="#1a1a1a"/>
<ellipse cx="327.00" cy="365.00" rx="1.0" ry="0.9" fill="#1a1a1a"/>
<text transform="translate(269.80,399.40) rotate(-90) scale(0.6633,1)" font-size="9.30" text-anchor="middle"  stroke="#1a1a1a" stroke-width="0.30">Rel. thrombus volume</text>
<text transform="translate(281.5,397.8) rotate(-90) scale(0.8,1)" font-size="9.5" text-anchor="middle" stroke="#1a1a1a" stroke-width="0.15">[IF/mm<tspan font-size="5.5" dy="-3.8" dx="0.3">2</tspan><tspan dy="3.8" dx="0.6">]</tspan></text>
<text x="442.9" y="255.6" font-size="9.3" stroke="#1a1a1a" stroke-width="0.18">1000 s<tspan font-size="6.4" dy="-3.3">&#8722;1</tspan></text>
<text x="396.00" y="299.80" font-size="9.00" text-anchor="start" font-style="italic"  stroke="#1a1a1a" stroke-width="0.18">wt</text>
<text x="371.90" y="400.50" font-size="9.00" text-anchor="start" font-style="italic" stroke="#1a1a1a" stroke-width="0.15">RhoB<tspan font-size="6.90" dy="-2.61">&#8722;/&#8722;</tspan></text>
<defs>
<filter id="cl" x="0" y="0" width="1" height="1" color-interpolation-filters="sRGB">
 <feTurbulence type="fractalNoise" baseFrequency="0.1" numOctaves="2" seed="3" result="dn"/>
 <feDisplacementMap in="SourceGraphic" in2="dn" scale="9" xChannelSelector="R" yChannelSelector="G" result="d"/>
 <feGaussianBlur in="d" stdDeviation="1.9" result="b"/>
 <feTurbulence type="fractalNoise" baseFrequency="0.2" numOctaves="3" seed="11" result="n"/>
 <feColorMatrix in="n" type="matrix" values="1 0 0 0 0  1 0 0 0 0  1 0 0 0 0  0 0 0 0 1" result="ng"/>
 <feComposite in="b" in2="ng" operator="arithmetic" k1="0.5" k2="1.2" k3="0.7" k4="-0.58" result="m"/>
 <feComponentTransfer in="m" result="c"><feFuncR type="linear" slope="0.95" intercept="0"/><feFuncG type="linear" slope="0.95" intercept="0"/><feFuncB type="linear" slope="0.95" intercept="0"/><feFuncA type="linear" slope="0" intercept="1"/></feComponentTransfer>
 <feGaussianBlur stdDeviation="0.5"/>
</filter>
<clipPath id="c1"><rect x="408.4" y="259" width="104.8" height="77.6"/></clipPath>
<clipPath id="c2"><rect x="408.4" y="360" width="104.8" height="77.6"/></clipPath>
</defs>
<g clip-path="url(#c1)"><g filter="url(#cl)">
<rect x="402.40" y="253.00" width="116.80" height="89.60" fill="#000"/>
<ellipse cx="411.0" cy="262.0" rx="4.3" ry="3.3" fill="#fff" fill-opacity="1.00" transform="rotate(0.0 411.0 262.0)"/>
<ellipse cx="422.0" cy="270.5" rx="8.5" ry="6.0" fill="#fff" fill-opacity="0.75" transform="rotate(-10.0 422.0 270.5)"/>
<ellipse cx="446.0" cy="266.5" rx="12.0" ry="6.5" fill="#fff" fill-opacity="0.95" transform="rotate(5.0 446.0 266.5)"/>
<ellipse cx="468.0" cy="270.0" rx="10.0" ry="6.0" fill="#fff" fill-opacity="0.85" transform="rotate(10.0 468.0 270.0)"/>
<ellipse cx="506.0" cy="271.0" rx="7.0" ry="5.5" fill="#fff" fill-opacity="0.65" transform="rotate(0.0 506.0 271.0)"/>
<ellipse cx="422.0" cy="284.5" rx="14.3" ry="3.5" fill="#fff" fill-opacity="1.00" transform="rotate(0.0 422.0 284.5)"/>
<ellipse cx="446.0" cy="286.0" rx="14.0" ry="6.0" fill="#fff" fill-opacity="0.95" transform="rotate(5.0 446.0 286.0)"/>
<ellipse cx="462.0" cy="289.0" rx="14.0" ry="8.0" fill="#fff" fill-opacity="1.00" transform="rotate(8.0 462.0 289.0)"/>
<ellipse cx="480.0" cy="294.5" rx="12.0" ry="5.5" fill="#fff" fill-opacity="0.85" transform="rotate(15.0 480.0 294.5)"/>
<ellipse cx="492.0" cy="299.0" rx="5.3" ry="3.3" fill="#fff" fill-opacity="0.90" transform="rotate(15.0 492.0 299.0)"/>
<ellipse cx="415.0" cy="300.0" rx="5.0" ry="4.5" fill="#fff" fill-opacity="1.00" transform="rotate(0.0 415.0 300.0)"/>
<ellipse cx="449.0" cy="316.0" rx="9.5" ry="8.5" fill="#fff" fill-opacity="0.95" transform="rotate(0.0 449.0 316.0)"/>
<ellipse cx="485.0" cy="317.0" rx="19.0" ry="4.5" fill="#fff" fill-opacity="0.97" transform="rotate(-4.0 485.0 317.0)"/>
<ellipse cx="479.0" cy="332.5" rx="13.0" ry="4.5" fill="#fff" fill-opacity="0.92" transform="rotate(0.0 479.0 332.5)"/>
<ellipse cx="462.0" cy="322.0" rx="6.3" ry="3.3" fill="#fff" fill-opacity="0.80" transform="rotate(10.0 462.0 322.0)"/>
<ellipse cx="423.0" cy="330.0" rx="6.8" ry="3.5" fill="#fff" fill-opacity="0.75" transform="rotate(0.0 423.0 330.0)"/>
<ellipse cx="431.0" cy="313.0" rx="4.8" ry="3.3" fill="#fff" fill-opacity="0.72" transform="rotate(0.0 431.0 313.0)"/>
<ellipse cx="411.0" cy="312.0" rx="3.3" ry="4.3" fill="#fff" fill-opacity="0.70" transform="rotate(0.0 411.0 312.0)"/>
<ellipse cx="510.5" cy="297.0" rx="3.5" ry="4.1" fill="#fff" fill-opacity="0.85" transform="rotate(0.0 510.5 297.0)"/>
<ellipse cx="444.0" cy="331.0" rx="4.8" ry="3.1" fill="#fff" fill-opacity="0.75" transform="rotate(0.0 444.0 331.0)"/>
<ellipse cx="412.0" cy="334.0" rx="4.3" ry="2.3" fill="#fff" fill-opacity="0.70" transform="rotate(0.0 412.0 334.0)"/>
<ellipse cx="460.0" cy="303.0" rx="7.3" ry="2.5" fill="#fff" fill-opacity="0.70" transform="rotate(0.0 460.0 303.0)"/>
<ellipse cx="436.0" cy="304.0" rx="5.3" ry="2.3" fill="#fff" fill-opacity="0.60" transform="rotate(0.0 436.0 304.0)"/>
<ellipse cx="500.0" cy="285.0" rx="4.3" ry="2.3" fill="#fff" fill-opacity="0.55" transform="rotate(0.0 500.0 285.0)"/>
<ellipse cx="425.0" cy="292.0" rx="6.3" ry="2.3" fill="#fff" fill-opacity="0.65" transform="rotate(0.0 425.0 292.0)"/>
<ellipse cx="432.0" cy="278.0" rx="5.3" ry="2.3" fill="#fff" fill-opacity="0.65" transform="rotate(0.0 432.0 278.0)"/>
</g></g>
<line x1="496.30" y1="331.50" x2="508.70" y2="331.50" stroke="#fff" stroke-width="1.60"/>
<g clip-path="url(#c2)"><g filter="url(#cl)">
<rect x="402.40" y="354.00" width="116.80" height="89.60" fill="#000"/>
<ellipse cx="468.5" cy="381.0" rx="7.5" ry="3.8" fill="#fff" fill-opacity="0.74" transform="rotate(-8.0 468.5 381.0)"/>
<ellipse cx="490.0" cy="386.5" rx="7.5" ry="6.0" fill="#fff" fill-opacity="0.75" transform="rotate(-10.0 490.0 386.5)"/>
<ellipse cx="434.7" cy="402.7" rx="7.3" ry="6.5" fill="#fff" fill-opacity="1.00" transform="rotate(0.0 434.7 402.7)"/>
<ellipse cx="453.0" cy="401.5" rx="8.0" ry="5.5" fill="#fff" fill-opacity="0.90" transform="rotate(8.0 453.0 401.5)"/>
<ellipse cx="466.0" cy="405.5" rx="8.5" ry="4.8" fill="#fff" fill-opacity="0.97" transform="rotate(12.0 466.0 405.5)"/>
<ellipse cx="493.5" cy="402.5" rx="4.5" ry="2.9" fill="#fff" fill-opacity="0.80" transform="rotate(0.0 493.5 402.5)"/>
<ellipse cx="509.0" cy="392.0" rx="3.8" ry="2.6" fill="#fff" fill-opacity="0.70" transform="rotate(20.0 509.0 392.0)"/>
<ellipse cx="412.0" cy="394.5" rx="3.8" ry="3.1" fill="#fff" fill-opacity="0.72" transform="rotate(0.0 412.0 394.5)"/>
<ellipse cx="411.5" cy="403.5" rx="3.3" ry="3.1" fill="#fff" fill-opacity="0.68" transform="rotate(0.0 411.5 403.5)"/>
<ellipse cx="429.5" cy="418.0" rx="7.8" ry="3.7" fill="#fff" fill-opacity="1.00" transform="rotate(5.0 429.5 418.0)"/>
<ellipse cx="417.0" cy="427.8" rx="4.5" ry="2.9" fill="#fff" fill-opacity="0.80" transform="rotate(0.0 417.0 427.8)"/>
<ellipse cx="425.0" cy="433.5" rx="8.3" ry="2.1" fill="#fff" fill-opacity="0.70" transform="rotate(-3.0 425.0 433.5)"/>
<ellipse cx="497.0" cy="430.0" rx="4.8" ry="3.3" fill="#fff" fill-opacity="0.75" transform="rotate(-10.0 497.0 430.0)"/>
<ellipse cx="465.0" cy="365.5" rx="2.8" ry="1.9" fill="#fff" fill-opacity="0.70" transform="rotate(0.0 465.0 365.5)"/>
<ellipse cx="441.0" cy="413.0" rx="3.3" ry="1.8" fill="#fff" fill-opacity="0.65" transform="rotate(0.0 441.0 413.0)"/>
<ellipse cx="452.0" cy="393.5" rx="3.3" ry="2.8" fill="#fff" fill-opacity="0.75" transform="rotate(0.0 452.0 393.5)"/>
<ellipse cx="421.0" cy="398.0" rx="3.3" ry="1.8" fill="#fff" fill-opacity="0.60" transform="rotate(0.0 421.0 398.0)"/>
<ellipse cx="478.0" cy="412.0" rx="4.3" ry="1.9" fill="#fff" fill-opacity="0.60" transform="rotate(0.0 478.0 412.0)"/>
<ellipse cx="445.0" cy="426.0" rx="4.3" ry="1.8" fill="#fff" fill-opacity="0.55" transform="rotate(0.0 445.0 426.0)"/>
</g></g>
<line x1="495.80" y1="432.80" x2="508.50" y2="432.80" stroke="#fff" stroke-width="1.60"/>
<line x1="41.05" y1="472.00" x2="41.05" y2="557.65" stroke="#1a1a1a" stroke-width="1.30"/>
<line x1="40.40" y1="557.10" x2="176.30" y2="557.10" stroke="#1a1a1a" stroke-width="1.30"/>
<line x1="37.90" y1="475.50" x2="40.90" y2="475.50" stroke="#1a1a1a" stroke-width="1.10"/>
<text x="34.70" y="478.35" font-size="8.00" text-anchor="end"  stroke="#1a1a1a" stroke-width="0.18">600</text>
<line x1="37.90" y1="489.10" x2="40.90" y2="489.10" stroke="#1a1a1a" stroke-width="1.10"/>
<text x="34.70" y="491.95" font-size="8.00" text-anchor="end"  stroke="#1a1a1a" stroke-width="0.18">500</text>
<line x1="37.90" y1="502.70" x2="40.90" y2="502.70" stroke="#1a1a1a" stroke-width="1.10"/>
<text x="34.70" y="505.55" font-size="8.00" text-anchor="end"  stroke="#1a1a1a" stroke-width="0.18">400</text>
<line x1="37.90" y1="516.30" x2="40.90" y2="516.30" stroke="#1a1a1a" stroke-width="1.10"/>
<text x="34.70" y="519.15" font-size="8.00" text-anchor="end"  stroke="#1a1a1a" stroke-width="0.18">300</text>
<line x1="37.90" y1="529.80" x2="40.90" y2="529.80" stroke="#1a1a1a" stroke-width="1.10"/>
<text x="34.70" y="532.65" font-size="8.00" text-anchor="end"  stroke="#1a1a1a" stroke-width="0.18">200</text>
<line x1="37.90" y1="543.40" x2="40.90" y2="543.40" stroke="#1a1a1a" stroke-width="1.10"/>
<text x="34.70" y="546.25" font-size="8.00" text-anchor="end"  stroke="#1a1a1a" stroke-width="0.18">100</text>
<line x1="37.90" y1="557.00" x2="40.90" y2="557.00" stroke="#1a1a1a" stroke-width="1.10"/>
<text x="34.70" y="559.85" font-size="8.00" text-anchor="end"  stroke="#1a1a1a" stroke-width="0.18">0</text>
<line x1="76.10" y1="557.00" x2="76.10" y2="559.60" stroke="#1a1a1a" stroke-width="1.00"/>
<line x1="140.90" y1="557.00" x2="140.90" y2="559.60" stroke="#1a1a1a" stroke-width="1.00"/>
<line x1="76.00" y1="489.20" x2="76.00" y2="510.40" stroke="#1a1a1a" stroke-width="1.10"/>
<line x1="67.20" y1="489.20" x2="84.80" y2="489.20" stroke="#1a1a1a" stroke-width="1.10"/>
<line x1="67.20" y1="510.40" x2="84.80" y2="510.40" stroke="#1a1a1a" stroke-width="1.10"/>
<line x1="58.50" y1="499.60" x2="93.50" y2="499.60" stroke="#1a1a1a" stroke-width="1.10"/>
<circle cx="76.00" cy="485.00" r="1.33" fill="#C4122F"/>
<circle cx="76.00" cy="490.00" r="1.33" fill="#C4122F"/>
<circle cx="76.00" cy="495.40" r="1.33" fill="#C4122F"/>
<circle cx="76.00" cy="499.10" r="1.33" fill="#C4122F"/>
<circle cx="76.00" cy="502.90" r="1.33" fill="#C4122F"/>
<circle cx="72.80" cy="512.90" r="1.33" fill="#C4122F"/>
<circle cx="79.50" cy="512.50" r="1.33" fill="#C4122F"/>
<line x1="140.80" y1="492.30" x2="140.80" y2="512.90" stroke="#1a1a1a" stroke-width="1.10"/>
<line x1="132.00" y1="492.30" x2="149.60" y2="492.30" stroke="#1a1a1a" stroke-width="1.10"/>
<line x1="132.00" y1="512.90" x2="149.60" y2="512.90" stroke="#1a1a1a" stroke-width="1.10"/>
<line x1="123.30" y1="502.50" x2="158.30" y2="502.50" stroke="#1a1a1a" stroke-width="1.10"/>
<path d="M134.30,488.65 L135.85,490.20 L134.30,491.75 L132.75,490.20 Z" fill="#115084"/>
<path d="M140.80,490.65 L142.35,492.20 L140.80,493.75 L139.25,492.20 Z" fill="#115084"/>
<path d="M147.40,490.35 L148.95,491.90 L147.40,493.45 L145.85,491.90 Z" fill="#115084"/>
<path d="M140.80,500.35 L142.35,501.90 L140.80,503.45 L139.25,501.90 Z" fill="#115084"/>
<path d="M140.80,503.85 L142.35,505.40 L140.80,506.95 L139.25,505.40 Z" fill="#115084"/>
<path d="M140.80,509.85 L142.35,511.40 L140.80,512.95 L139.25,511.40 Z" fill="#115084"/>
<path d="M134.30,512.25 L135.85,513.80 L134.30,515.35 L132.75,513.80 Z" fill="#115084"/>
<path d="M147.40,512.25 L148.95,513.80 L147.40,515.35 L145.85,513.80 Z" fill="#115084"/>
<text transform="translate(15.90,514.50) rotate(-90) scale(0.7048,1)" font-size="9.30" text-anchor="middle"  stroke="#1a1a1a" stroke-width="0.30">Time to occlusion [s]</text>
<text x="127" y="478" font-size="7.6" stroke="#1a1a1a" stroke-width="0.15" textLength="31" lengthAdjust="spacingAndGlyphs"><tspan font-style="italic">P</tspan>=.5820</text>
<text x="76.50" y="569.50" font-size="9.00" text-anchor="middle" font-style="italic"  stroke="#1a1a1a" stroke-width="0.18">wt</text>
<text x="127.50" y="569.50" font-size="9.00" text-anchor="start" font-style="italic" stroke="#1a1a1a" stroke-width="0.15">RhoB<tspan font-size="6.90" dy="-2.61">&#8722;/&#8722;</tspan></text>
<line x1="302.25" y1="472.00" x2="302.25" y2="557.65" stroke="#1a1a1a" stroke-width="1.30"/>
<line x1="301.60" y1="557.10" x2="437.00" y2="557.10" stroke="#1a1a1a" stroke-width="1.30"/>
<line x1="299.10" y1="475.50" x2="302.10" y2="475.50" stroke="#1a1a1a" stroke-width="1.10"/>
<text x="296.00" y="478.35" font-size="8.00" text-anchor="end"  stroke="#1a1a1a" stroke-width="0.18">1500</text>
<line x1="299.10" y1="502.70" x2="302.10" y2="502.70" stroke="#1a1a1a" stroke-width="1.10"/>
<text x="296.00" y="505.55" font-size="8.00" text-anchor="end"  stroke="#1a1a1a" stroke-width="0.18">1000</text>
<line x1="299.10" y1="529.90" x2="302.10" y2="529.90" stroke="#1a1a1a" stroke-width="1.10"/>
<text x="296.00" y="532.75" font-size="8.00" text-anchor="end"  stroke="#1a1a1a" stroke-width="0.18">500</text>
<line x1="299.10" y1="557.00" x2="302.10" y2="557.00" stroke="#1a1a1a" stroke-width="1.10"/>
<text x="296.00" y="559.85" font-size="8.00" text-anchor="end"  stroke="#1a1a1a" stroke-width="0.18">0</text>
<line x1="336.90" y1="557.00" x2="336.90" y2="559.60" stroke="#1a1a1a" stroke-width="1.00"/>
<line x1="401.70" y1="557.00" x2="401.70" y2="559.60" stroke="#1a1a1a" stroke-width="1.00"/>
<line x1="336.80" y1="515.90" x2="336.80" y2="554.30" stroke="#1a1a1a" stroke-width="1.10"/>
<line x1="328.00" y1="515.90" x2="345.60" y2="515.90" stroke="#1a1a1a" stroke-width="1.10"/>
<line x1="328.00" y1="554.30" x2="345.60" y2="554.30" stroke="#1a1a1a" stroke-width="1.10"/>
<line x1="319.30" y1="535.40" x2="354.30" y2="535.40" stroke="#1a1a1a" stroke-width="1.10"/>
<circle cx="336.80" cy="491.90" r="1.33" fill="#C4122F"/>
<circle cx="336.80" cy="500.60" r="1.33" fill="#C4122F"/>
<circle cx="336.80" cy="503.80" r="1.33" fill="#C4122F"/>
<circle cx="333.70" cy="530.30" r="1.33" fill="#C4122F"/>
<circle cx="333.70" cy="540.20" r="1.33" fill="#C4122F"/>
<circle cx="333.70" cy="544.00" r="1.33" fill="#C4122F"/>
<circle cx="340.30" cy="533.00" r="1.33" fill="#C4122F"/>
<circle cx="340.30" cy="543.40" r="1.33" fill="#C4122F"/>
<circle cx="340.30" cy="552.50" r="1.33" fill="#C4122F"/>
<circle cx="327.10" cy="537.40" r="1.33" fill="#C4122F"/>
<circle cx="327.10" cy="540.90" r="1.33" fill="#C4122F"/>
<circle cx="327.10" cy="546.10" r="1.33" fill="#C4122F"/>
<circle cx="327.10" cy="549.30" r="1.33" fill="#C4122F"/>
<circle cx="327.10" cy="552.70" r="1.33" fill="#C4122F"/>
<circle cx="346.80" cy="546.20" r="1.33" fill="#C4122F"/>
<circle cx="346.80" cy="550.60" r="1.33" fill="#C4122F"/>
<line x1="401.80" y1="515.90" x2="401.80" y2="550.50" stroke="#1a1a1a" stroke-width="1.10"/>
<line x1="393.00" y1="515.90" x2="410.60" y2="515.90" stroke="#1a1a1a" stroke-width="1.10"/>
<line x1="393.00" y1="550.50" x2="410.60" y2="550.50" stroke="#1a1a1a" stroke-width="1.10"/>
<line x1="384.30" y1="533.10" x2="419.30" y2="533.10" stroke="#1a1a1a" stroke-width="1.10"/>
<circle cx="401.80" cy="491.90" r="1.33" fill="#115084"/>
<circle cx="401.80" cy="495.40" r="1.33" fill="#115084"/>
<circle cx="401.80" cy="507.20" r="1.33" fill="#115084"/>
<circle cx="401.80" cy="511.60" r="1.33" fill="#115084"/>
<circle cx="401.80" cy="524.70" r="1.33" fill="#115084"/>
<circle cx="401.80" cy="527.80" r="1.33" fill="#115084"/>
<circle cx="401.80" cy="530.90" r="1.33" fill="#115084"/>
<circle cx="401.80" cy="534.00" r="1.33" fill="#115084"/>
<circle cx="401.80" cy="543.60" r="1.33" fill="#115084"/>
<circle cx="401.80" cy="546.80" r="1.33" fill="#115084"/>
<circle cx="401.80" cy="550.20" r="1.33" fill="#115084"/>
<circle cx="395.20" cy="529.60" r="1.33" fill="#115084"/>
<circle cx="395.20" cy="533.80" r="1.33" fill="#115084"/>
<circle cx="395.20" cy="539.60" r="1.33" fill="#115084"/>
<circle cx="395.20" cy="543.00" r="1.33" fill="#115084"/>
<circle cx="395.20" cy="546.10" r="1.33" fill="#115084"/>
<circle cx="395.20" cy="549.00" r="1.33" fill="#115084"/>
<circle cx="395.20" cy="553.30" r="1.33" fill="#115084"/>
<circle cx="388.70" cy="540.60" r="1.33" fill="#115084"/>
<circle cx="388.70" cy="546.10" r="1.33" fill="#115084"/>
<circle cx="408.40" cy="533.10" r="1.33" fill="#115084"/>
<circle cx="408.40" cy="550.60" r="1.33" fill="#115084"/>
<circle cx="414.90" cy="530.90" r="1.33" fill="#115084"/>
<text transform="translate(272.80,515.00) rotate(-90) scale(0.7002,1)" font-size="9.30" text-anchor="middle"  stroke="#1a1a1a" stroke-width="0.30">Tail bleeding time [s]</text>
<text x="390.5" y="478" font-size="7.6" stroke="#1a1a1a" stroke-width="0.15" textLength="25.8" lengthAdjust="spacingAndGlyphs"><tspan font-style="italic">P</tspan>=.720</text>
<text x="337.80" y="569.50" font-size="9.00" text-anchor="middle" font-style="italic"  stroke="#1a1a1a" stroke-width="0.18">wt</text>
<text x="389.50" y="569.50" font-size="9.00" text-anchor="start" font-style="italic" stroke="#1a1a1a" stroke-width="0.15">RhoB<tspan font-size="6.90" dy="-2.61">&#8722;/&#8722;</tspan></text>
<rect x="0.5" y="0.5" width="519" height="576" fill="none" stroke="#000" stroke-width="1"/>
</svg>
</div>
</body></html>
